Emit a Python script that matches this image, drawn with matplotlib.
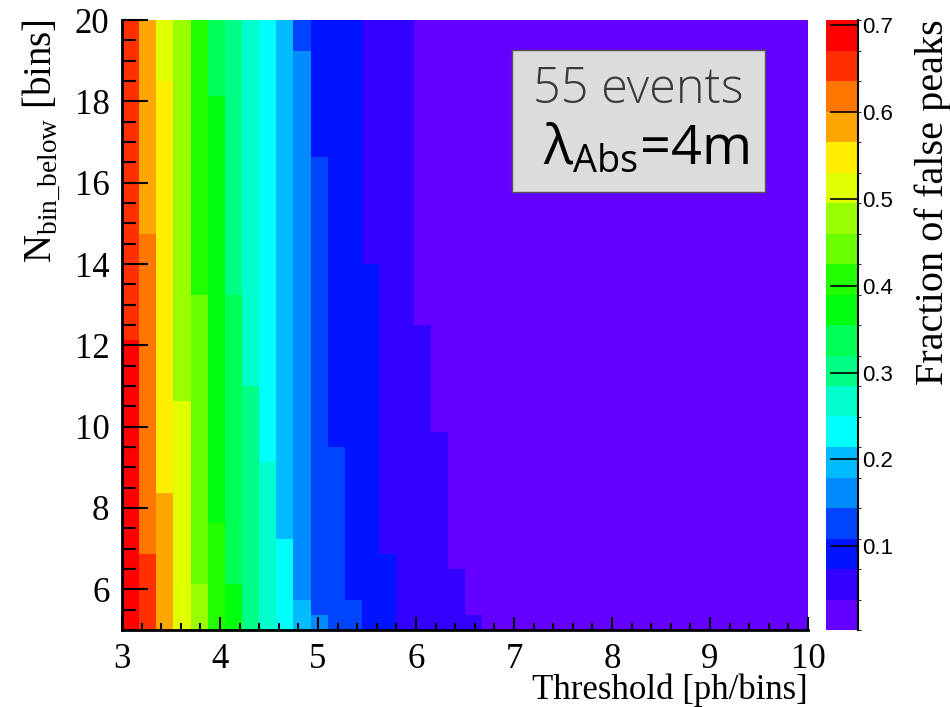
import numpy as np
import matplotlib
matplotlib.use("Agg")
import matplotlib.pyplot as plt
from matplotlib.colors import ListedColormap, BoundaryNorm
from matplotlib.ticker import MultipleLocator
from matplotlib.patches import Rectangle

plt.rcParams['mathtext.fontset'] = 'custom'
plt.rcParams['mathtext.rm'] = 'Liberation Serif'
plt.rcParams['mathtext.sf'] = 'Open Sans'

# ---------------- data ----------------
x_range = (3.0, 10.0)   # Threshold [ph/bins]
y_range = (5.0, 20.0)   # N_bin_below [bins]
n_xbins = 40
n_ybins = 40
z_range = (0.0035, 0.706)  # Fraction of false peaks (colour scale)
n_levels = 20

x_ticks = [3, 4, 5, 6, 7, 8, 9, 10]
y_ticks = [6, 8, 10, 12, 14, 16, 18, 20]
z_ticks = [0.1, 0.2, 0.3, 0.4, 0.5, 0.6, 0.7]

# colour-band index of every cell (0..19 -> '0'..'9','a'..'j'),
# rows listed from the top (N=20) to the bottom (N=5), columns from Threshold=3 to 10
level_chars = "0123456789abcdefghij"
Z = "0000000000000000000"
rows_top_down = [
    "igedb98765" "32221110000" + Z,
    "igedb98765" "32221110000" + Z,
    "igedb98765" "42221110000" + Z,
    "igedb98765" "42221110000" + Z,
    "igfdb98765" "42221110000" + Z,
    "igfdba8765" "42221110000" + Z,
    "igfdba8765" "42221110000" + Z,
    "igfdba8765" "42221110000" + Z,
    "igfdba8765" "42221110000" + Z,
    "igfdba8765" "43221110000" + Z,
    "igfdba8765" "43221110000" + Z,
    "igfdba8765" "43221110000" + Z,
    "igfdba8765" "43221110000" + Z,
    "igfdba8765" "43221110000" + Z,
    "ihfdba8765" "43221110000" + Z,
    "ihfdba8765" "43221110000" + Z,
    "ihfdba8765" "43222110000" + Z,
    "ihfdba8765" "43222110000" + Z,
    "ihfdca9765" "43222110000" + Z,
    "ihfdca9765" "43222110000" + Z,
    "ihfdca9765" "43222111000" + Z,
    "jhfdca9765" "43222111000" + Z,
    "jhfdca9765" "43222111000" + Z,
    "jhfdca9765" "43222111000" + Z,
    "jhfdca9865" "43222111000" + Z,
    "jhfeca9865" "43222111000" + Z,
    "jhfeca9865" "43222111000" + Z,
    "jhfeca9865" "43222111100" + Z,
    "jhfeca9865" "43322111100" + Z,
    "jhfeca9875" "43322111100" + Z,
    "jhfeca9875" "43322111100" + Z,
    "jhgeca9875" "43322111100" + Z,
    "jhgeca9875" "43322111100" + Z,
    "jhgecb9875" "43322111100" + Z,
    "jhgecb9876" "43322111100" + Z,
    "jigecb9876" "43322211100" + Z,
    "jigecb9876" "43322211110" + Z,
    "jigedba876" "43322211110" + Z,
    "jigedba876" "53332211110" + Z,
    "jigedba876" "54332211111" + Z,
]

# ROOT "pretty" palette, 20 contour colours (violet -> red)
palette = ["#6300FF", "#3300FF", "#0014FF", "#0044FF", "#008BFF",
           "#00BBFF", "#00FFFC", "#00FFCC", "#00FF85", "#00FF55",
           "#00FF0E", "#22FF00", "#69FF00", "#99FF00", "#E0FF00",
           "#FFEE00", "#FFA700", "#FF7700", "#FF3000", "#FF0000"]

# ---------------- build ----------------
levels = np.array([[level_chars.index(c) for c in r] for r in rows_top_down])[::-1]
dz = (z_range[1] - z_range[0]) / n_levels
values = z_range[0] + (levels + 0.5) * dz

x_edges = np.linspace(x_range[0], x_range[1], n_xbins + 1)
y_edges = np.linspace(y_range[0], y_range[1], n_ybins + 1)

cmap = ListedColormap(palette)
norm = BoundaryNorm(np.linspace(z_range[0], z_range[1], n_levels + 1), n_levels)

W, H = 950, 707
fig = plt.figure(figsize=(W / 100, H / 100), dpi=100)
ax = fig.add_axes([122 / W, 1 - 630 / H, 686 / W, 610 / H])
mesh = ax.pcolormesh(x_edges, y_edges, values, cmap=cmap, norm=norm, shading='flat')
ax.set_xlim(*x_range)
ax.set_ylim(*y_range)

serif = 'Liberation Serif'
ax.set_xticks(x_ticks)
ax.set_yticks(y_ticks)
ax.xaxis.set_minor_locator(MultipleLocator(0.2))
ax.yaxis.set_minor_locator(MultipleLocator(0.5))
ax.tick_params(axis='x', which='major', direction='in', length=9.5, width=1.5, pad=9)
ax.tick_params(axis='x', which='minor', direction='in', length=5, width=1.5)
ax.tick_params(axis='y', which='major', direction='in', length=19, width=1.5, pad=9)
ax.tick_params(axis='y', which='minor', direction='in', length=10, width=1.5)
for lab in ax.get_xticklabels() + ax.get_yticklabels():
    lab.set_fontfamily(serif)
    lab.set_fontsize(25)
for s in ['top', 'right']:
    ax.spines[s].set_visible(False)
for s in ['left', 'bottom']:
    ax.spines[s].set_linewidth(2)

fig.text(808 / W, 8 / H, "Threshold [ph/bins]", family=serif, fontsize=25,
         ha='right', va='baseline')
fig.text(42 / W, 1 - 19 / H, r"N$_{\mathrm{bin\_below}}$ [bins]", family=serif,
         fontsize=28, rotation=90, ha='center', va='top')

# colour bar
cax = fig.add_axes([826 / W, 1 - 630 / H, 32 / W, 610 / H])
cb = fig.colorbar(mesh, cax=cax, ticks=z_ticks)
cb.outline.set_visible(False)
cax.tick_params(direction='in', length=20, width=1.2, pad=3, labelsize=16)
for lab in cax.get_yticklabels():
    lab.set_fontfamily('Liberation Sans')
cax.plot([1, 1], [0, 1], transform=cax.transAxes, color='k', lw=1.5, clip_on=False)
fig.text(933 / W, 1 - 19 / H, "Fraction of false peaks", family=serif, fontsize=29,
         rotation=90, ha='center', va='top')

# text box
fig.patches.append(Rectangle((512 / W, 1 - 192 / H), 253 / W, 142 / H,
                             transform=fig.transFigure, facecolor='#DCDCDC',
                             edgecolor='#555555', lw=1))
fig.text(638 / W, 1 - 90 / H, "55 events", family='Open Sans', fontsize=35,
         color='#3a3a3a', fontweight='light', ha='center', va='center')
fig.text(646 / W, 1 - 150 / H, r"λ$_{\mathsf{Abs}}$=4m", family='Open Sans',
         fontsize=39, color='black', ha='center', va='center')

fig.savefig("out.png", dpi=100)
